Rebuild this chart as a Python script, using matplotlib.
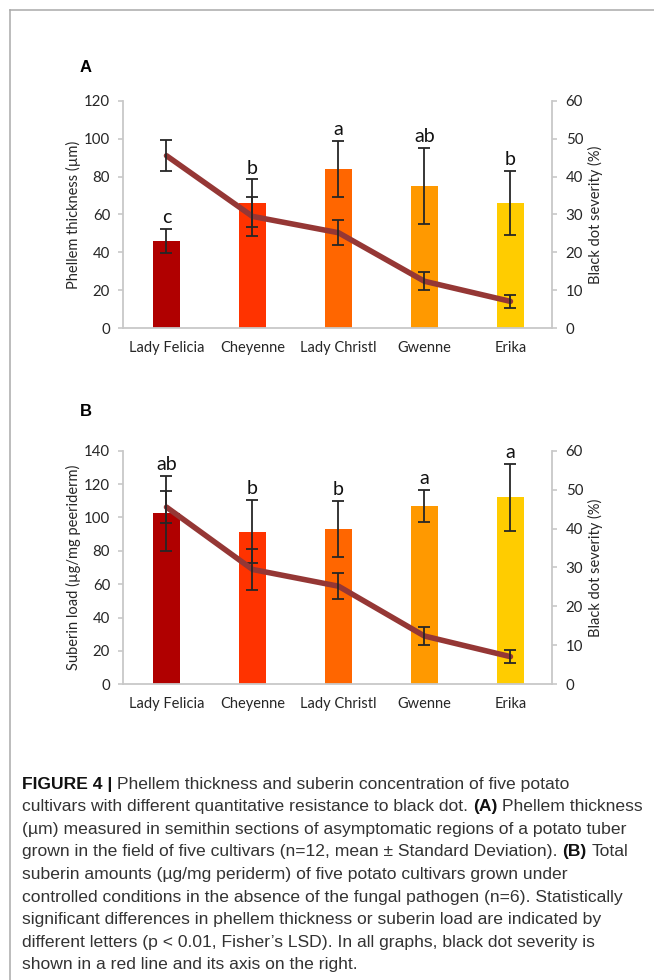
import matplotlib.pyplot as plt
import numpy as np
from matplotlib.lines import Line2D

cultivars = ['Lady Felicia', 'Cheyenne', 'Lady Christl', 'Gwenne', 'Erika']
bar_colors = ['#B00000', '#FF3300', '#FF6600', '#FF9900', '#FFCC00']

phellem = [46, 66, 84, 75, 66]
phellem_sd = [6.5, 12.5, 15, 20, 17]
phellem_letters = ['c', 'b', 'a', 'ab', 'b']

suberin = [102.5, 91.5, 93, 107, 112]
suberin_sd = [22.5, 19, 17, 9.5, 20]
suberin_letters = ['ab', 'b', 'b', 'a', 'a']

severity = [45.5, 29.5, 25.2, 12.4, 7.1]
severity_sd = [4.1, 5.2, 3.3, 2.4, 1.7]

caption_lines = [
    [("FIGURE 4 |", True), ("Phellem thickness and suberin concentration of five potato", False)],
    [("cultivars with different quantitative resistance to black dot.", False), ("(A)", True),
     ("Phellem thickness", False)],
    [("(µm) measured in semithin sections of asymptomatic regions of a potato tuber", False)],
    [("grown in the field of five cultivars (n=12, mean ± Standard Deviation).", False), ("(B)", True),
     ("Total", False)],
    [("suberin amounts (µg/mg periderm) of five potato cultivars grown under", False)],
    [("controlled conditions in the absence of the fungal pathogen (n=6). Statistically", False)],
    [("significant differences in phellem thickness or suberin load are indicated by", False)],
    [("different letters (p < 0.01, Fisher’s LSD). In all graphs, black dot severity is", False)],
    [("shown in a red line and its axis on the right.", False)],
]

W, H = 654, 980
CHART_FONT = ['Lato', 'DejaVu Sans']
CAP_FONT = ['Liberation Sans', 'DejaVu Sans']
SPINE = '#C8C8C8'
LINE_COLOR = '#953735'
ERR = '#262626'
TXT = '#262626'
AX_LEFT, AX_W = 123.5, 428.2

fig = plt.figure(figsize=(W / 100, H / 100), dpi=100)

# frame lines (top and left)
fig.add_artist(Line2D([9.5 / W, 1], [1 - 10.5 / H, 1 - 10.5 / H], color='#AAAAAA', lw=1.1))
fig.add_artist(Line2D([9.5 / W, 9.5 / W], [0, 1 - 10.5 / H], color='#AAAAAA', lw=1.1))


def panel(rect, vals, sds, letters, ymax, ystep, ylabel, tag, tag_y):
    ax = fig.add_axes(rect)
    x = np.arange(len(cultivars))
    ax.bar(x, vals, width=0.31, color=bar_colors, zorder=2)
    ax.errorbar(x, vals, yerr=sds, fmt='none', ecolor=ERR, elinewidth=1.3,
                capsize=4.2, capthick=1.3, zorder=3)
    for xi, v, s, lab in zip(x, vals, sds, letters):
        ax.annotate(lab, (xi, v + s), xytext=(0, 2), textcoords='offset points',
                    ha='center', va='bottom', fontsize=14, family=CHART_FONT, color='#111111')
    ax.set_xlim(-0.5, 4.48)
    ax.set_ylim(0, ymax)
    ax.set_yticks(np.arange(0, ymax + 1, ystep))
    ax.set_xticks(x)
    ax.set_xticklabels(cultivars, family=CHART_FONT, fontsize=10.5, color=TXT)
    for t in ax.get_yticklabels():
        t.set_family(CHART_FONT)
    ax.tick_params(axis='y', direction='out', length=3.6, width=1.2, color=SPINE,
                   labelsize=10.8, labelcolor=TXT, pad=6)
    ax.tick_params(axis='x', length=0, pad=9)
    for side in ['top', 'right']:
        ax.spines[side].set_visible(False)
    for side in ['left', 'bottom']:
        ax.spines[side].set_color(SPINE)
        ax.spines[side].set_linewidth(1.3)
    ax.set_ylabel(ylabel, family=CHART_FONT, fontsize=10.5, color=TXT)
    ax.yaxis.set_label_coords((81.5 - AX_LEFT) / AX_W, 0.5)

    ax2 = ax.twinx()
    ax2.plot(x, severity, color=LINE_COLOR, lw=4, solid_capstyle='round', zorder=2)
    ax2.errorbar(x, severity, yerr=severity_sd, fmt='none', ecolor=ERR, elinewidth=1.3,
                 capsize=4.2, capthick=1.3, zorder=3)
    ax2.set_ylim(0, 60)
    ax2.set_yticks(np.arange(0, 61, 10))
    for t in ax2.get_yticklabels():
        t.set_family(CHART_FONT)
    ax2.tick_params(axis='y', direction='out', length=3.6, width=1.2, color=SPINE,
                    labelsize=10.8, labelcolor=TXT, pad=6.5)
    for side in ['top', 'left', 'bottom']:
        ax2.spines[side].set_visible(False)
    ax2.spines['right'].set_color(SPINE)
    ax2.spines['right'].set_linewidth(1.3)
    ax2.set_ylabel('Black dot severity (%)', family=CHART_FONT, fontsize=10.5, color=TXT)
    ax2.yaxis.set_label_coords((587.5 - AX_LEFT) / AX_W, 0.5)

    fig.text(80 / W, 1 - tag_y / H, tag, fontsize=12, fontweight='bold',
             family=CAP_FONT, va='center', ha='left')
    return ax


panel([AX_LEFT / W, (H - 328.3) / H, AX_W / W, 227.6 / H], phellem, phellem_sd,
      phellem_letters, 120, 20, 'Phellem thickness (µm)', 'A', 68)
panel([AX_LEFT / W, (H - 684.3) / H, AX_W / W, 233.6 / H], suberin, suberin_sd,
      suberin_letters, 140, 20, 'Suberin load (µg/mg peeriderm)', 'B', 412)

# caption, with bold pieces laid out one after another
renderer = fig.canvas.get_renderer()


def text_width(s, weight, size):
    t = fig.text(0, 0, s, fontsize=size, fontweight=weight, family=CAP_FONT)
    w = t.get_window_extent(renderer).width
    t.remove()
    return w


CAP_SIZE = 12.6
space_w = text_width('a a', 'normal', CAP_SIZE) - text_width('aa', 'normal', CAP_SIZE)
y0, dy = 784, 22.6
for i, pieces in enumerate(caption_lines):
    xpx = 22
    ypx = y0 + i * dy
    for s, bold in pieces:
        t = fig.text(xpx / W, 1 - ypx / H, s, fontsize=CAP_SIZE,
                     fontweight='bold' if bold else 'normal', family=CAP_FONT,
                     color='#111111' if bold else '#333333', va='center', ha='left')
        xpx += t.get_window_extent(renderer).width + space_w

fig.savefig('out.png', dpi=100)
